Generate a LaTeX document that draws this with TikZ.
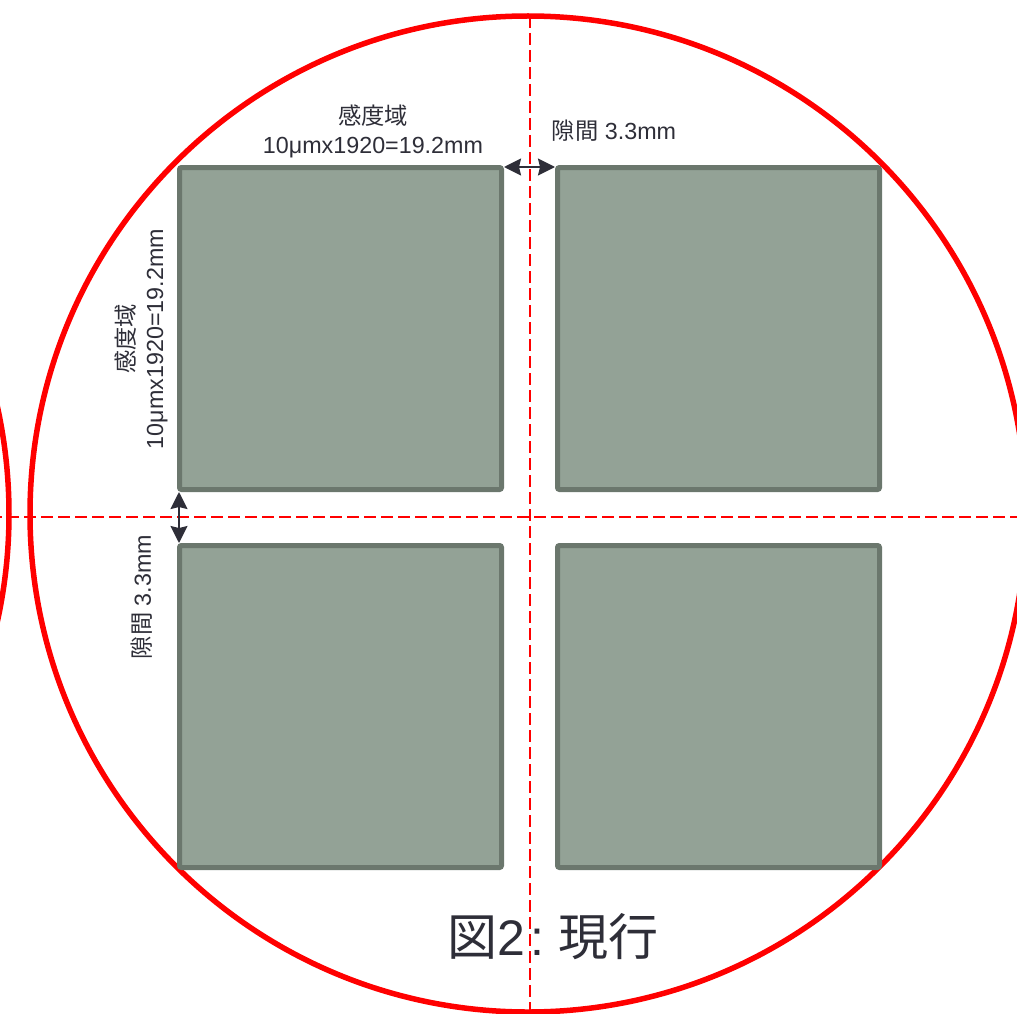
\documentclass[tikz,border=0pt]{standalone}
\usepackage{fontspec}
\setmainfont{Liberation Sans}
\newfontfamily\cjk{Noto Sans CJK JP}
\usetikzlibrary{arrows.meta}
\definecolor{chipfill}{HTML}{93A296}
\definecolor{chipedge}{HTML}{6B776D}
\definecolor{ink}{HTML}{2E2E38}
\begin{document}
\begin{tikzpicture}[x=1pt,y=-1pt,
 chip/.style={draw=chipedge, fill=chipfill, line width=5pt, rounded corners=2pt, minimum width=322pt, minimum height=322pt, inner sep=0pt},
 lbl/.style={text=ink, font=\fontsize{23.3}{29}\selectfont, align=center, inner sep=0pt},
 dimline/.style={ink, line width=2pt, {Stealth[length=17pt,width=17pt,inset=2pt]}-{Stealth[length=17pt,width=17pt,inset=2pt]}},
 guide/.style={red, line width=2pt, dash pattern=on 12pt off 5pt},
 wafer/.style={draw=red, line width=5.5pt, circle, minimum size=996pt, inner sep=0pt, outer sep=0pt}]
\useasboundingbox (0,0) rectangle (1017,1014);
% wafers
\node[wafer] (w1) at (528,514) {};
\node[wafer] (w0) at (-489,514) {};
% guides
\coordinate (vt) at (530,16);
\coordinate (vb) at (530,1020);
\coordinate (hl) at (-10,517);
\coordinate (hr) at (1030,517);
\draw[guide] (hl) -- (hr);
% chips
\node[chip] (tl) at (340.5,328.5) {};
\node[chip] (tr) at (718.5,328.5) {};
\node[chip] (bl) at (340.5,706.5) {};
\node[chip] (br) at (718.5,706.5) {};
\draw[guide] (vt) -- (vb);
% dimensions
\draw[dimline] ([yshift=-2pt]tl.north east) -- ([yshift=-2pt]tr.north west);
\draw[dimline] ([xshift=2pt]tl.south west) -- ([xshift=2pt]bl.north west);
% labels
\node[lbl] (wtop) at (373,131) {{\cjk 感度域}\\10μmx1920=19.2mm};
\node[lbl] (gtop) at (614,131) {{\cjk 隙間} 3.3mm};
\node[lbl, rotate=90] (wleft) at (141,339) {{\cjk 感度域}\\10μmx1920=19.2mm};
\node[lbl, rotate=90] (gleft) at (142,597) {{\cjk 隙間} 3.3mm};
\node[text=ink, font=\fontsize{50}{60}\selectfont, inner sep=0pt] (cap) at (553,937) {{\cjk 図}2\kern5pt:\kern-5pt{} {\cjk 現行}};
\end{tikzpicture}
\end{document}
